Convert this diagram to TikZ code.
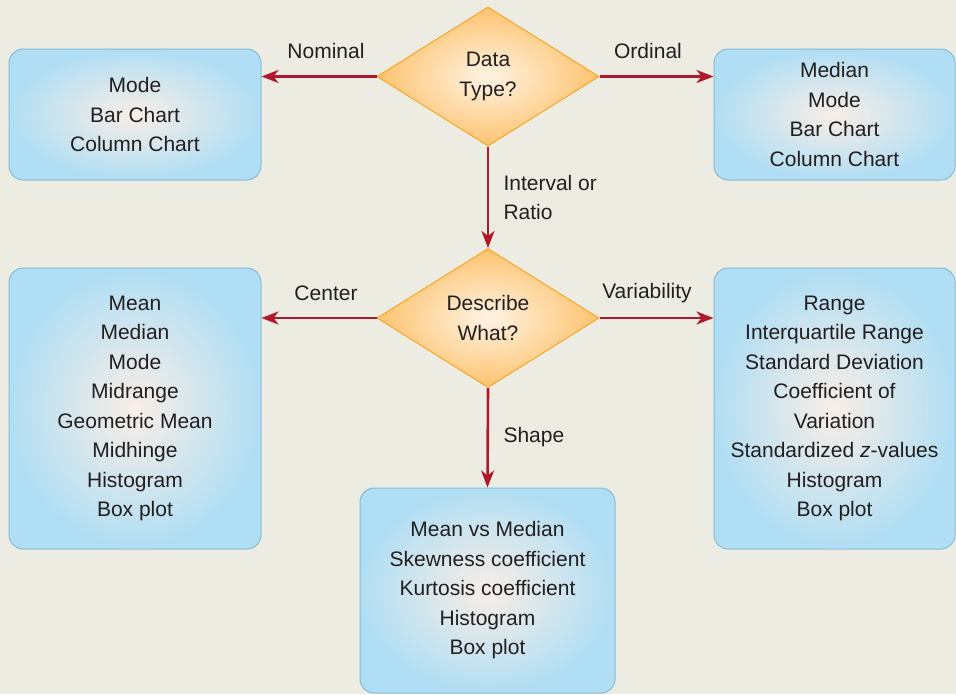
\documentclass[tikz,border=0pt]{standalone}
\usepackage{fontspec}
\setmainfont{Liberation Sans}
\usetikzlibrary{shapes.geometric, arrows.meta}
\definecolor{paper}{HTML}{EDECE2}
\definecolor{ink}{HTML}{231F20}
\definecolor{boxin}{HTML}{F9EEE6}
\definecolor{boxout}{HTML}{B0DEF4}
\definecolor{boxedge}{HTML}{86BCD8}
\definecolor{diain}{HTML}{FFF3E3}
\definecolor{diaout}{HTML}{FDC36F}
\definecolor{diaedge}{HTML}{F6A623}
\definecolor{arrowred}{HTML}{B2182B}

\begin{document}
\begin{tikzpicture}[x=1pt, y=-1pt,
  every node/.style={font=\fontsize{21}{29.5}\selectfont, text=ink, align=center},
  statbox/.style={rectangle, rounded corners=14pt, draw=boxedge, line width=1pt,
    inner color=boxin, outer color=boxout},
  question/.style={diamond, aspect=1.6, inner sep=0pt, draw=diaedge, line width=1pt,
    inner color=diain, outer color=diaout, minimum width=222pt, minimum height=139pt},
  flow/.style={-{Stealth[length=17pt, width=13pt, inset=5pt]}, line width=2.6pt, arrowred}]

  % page background, cut to size
  \fill[paper] (0,0) rectangle (956,694);
  \clip (0,0) rectangle (956,694);

  % the two questions
  \node[question] (dtype) at (488,76.5) {Data\\Type?};
  \node[question] (dwhat) at (488,318) {Describe\\What?};

  % answer boxes
  \node[statbox, minimum width=252pt, minimum height=131pt] (nominal) at (135,114.5)
    {Mode\\Bar Chart\\Column Chart};
  \node[statbox, minimum width=241pt, minimum height=131pt] (ordinal) at (834.5,114.5)
    {Median\\Mode\\Bar Chart\\Column Chart};
  \node[statbox, minimum width=252pt, minimum height=281pt] (center) at (135,408.5)
    {Mean\\Median\\Mode\\Midrange\\Geometric Mean\\Midhinge\\Histogram\\Box plot};
  \node[statbox, minimum width=241pt, minimum height=281pt] (spread) at (834.5,408.5)
    {Range\\Interquartile Range\\Standard Deviation\\Coefficient of\\Variation\\Standardized \textit{z}-values\\Histogram\\Box plot};
  \node[statbox, minimum width=255pt, minimum height=205pt] (shape) at (487.5,590.5)
    {Mean vs Median\\Skewness coefficient\\Kurtosis coefficient\\Histogram\\Box plot};

  % connectors
  \draw[flow] (dtype.west) -- (dtype.west -| nominal.east);
  \draw[flow] (dtype.east) -- (dtype.east -| ordinal.west);
  \draw[flow] (dtype.south) -- (dwhat.north);
  \draw[flow] (dwhat.west) -- (dwhat.west -| center.east);
  \draw[flow] (dwhat.east) -- (dwhat.east -| spread.west);
  \draw[flow] (dwhat.south) -- (shape.north);

  % connector labels
  \node (lnom) at (326,51) {Nominal};
  \node (lord) at (648,51) {Ordinal};
  \node[anchor=west, align=left] (lint) at (500,197.5) {Interval or\\Ratio};
  \node (lcen) at (326,293) {Center};
  \node (lvar) at (647,293) {Variability};
  \node[anchor=west] (lshp) at (500,437) {Shape};

\end{tikzpicture}
\end{document}
